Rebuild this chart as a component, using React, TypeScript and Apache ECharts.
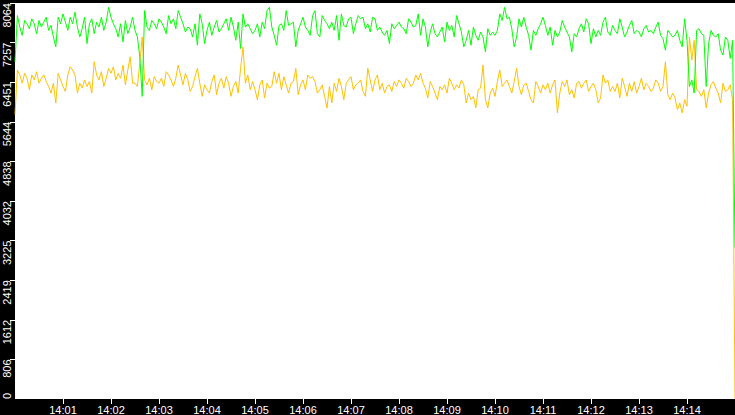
import { useEffect, useRef } from "react";
import * as echarts from "echarts";

const GREEN_COLOR = "#00ff00";
const ORANGE_COLOR = "#ffc000";

// one sample every 3 s, starting 14:00:00
const STEP_S = 3;
const START_MIN = 0;

const Y_MAX = 8064;
const Y_STEP = 806.4;

const MINUTE_TICKS = [60, 120, 180, 240, 300, 360, 420, 480, 540, 600, 660, 720, 780, 840];

const GREEN = [
    6868, 7809, 7574, 7406, 7708, 7641, 7540, 7742, 7641, 7439, 7708, 7574, 7674, 7775, 7506, 7607, 7372, 7170, 7775, 7641,
    7842, 7674, 7506, 7775, 7641, 7876, 7574, 7372, 7540, 7775, 7238, 7641, 7742, 7439, 7674, 7574, 7775, 7506, 7674, 7977,
    7775, 7641, 7540, 7372, 7641, 7271, 7708, 7439, 7574, 7775,
    7506, 7372, 6969, 6162, 7910, 7574, 7506, 7708, 7641, 7540, 7742, 7674, 7574, 7439, 7809, 7641, 7742, 7540, 7910, 7775,
    7641, 7473, 7574, 7540, 7372, 7641, 7204, 7842, 7641, 7238, 7506, 7674, 7406, 7574, 7708, 7473, 7540, 7641, 7742, 7506,
    7775, 7574, 7305, 7674, 7137, 7842, 7574, 7641, 7540, 7439,
    7506, 7641, 7372, 7674, 7540, 7910, 7977, 7574, 7406, 7204, 7607, 7641, 7506, 7910, 7607, 7641, 7674, 7170, 7506, 7641,
    7775, 7574, 7506, 7406, 7809, 7910, 7439, 7372, 7809, 7708, 7641, 7540, 7674, 7506, 7809, 7305, 7842, 7607, 7574, 7742,
    7775, 7439, 7641, 7809, 7742, 7775, 7540, 7641, 7473, 7775,
    7742, 7506, 7574, 7473, 7406, 7506, 7238, 7641, 7540, 7607, 7674, 7574, 7540, 7439, 7742, 7674, 7574, 7607, 7842, 7406,
    7742, 7574, 7170, 7473, 7641, 7439, 7372, 7473, 7574, 7271, 7674, 7506, 7607, 7372, 7809, 7641, 7473, 7170, 7305, 7506,
    7204, 7574, 7406, 7305, 7473, 7372, 7070, 7540, 7406, 7473,
    7406, 7506, 7842, 7708, 7977, 7742, 7775, 7540, 7170, 7372, 7742, 7574, 7775, 7574, 7406, 7103, 7506, 7406, 7540, 7641,
    7775, 7607, 7406, 7574, 7204, 7506, 7372, 7473, 7708, 7574, 7473, 7372, 7070, 7439, 7372, 7540, 7641, 7473, 7742, 7641,
    7238, 7540, 7372, 7506, 7406, 7674, 7775, 7473, 7406, 7607,
    7506, 7439, 7742, 7574, 7372, 7473, 7607, 7708, 7439, 7506, 7473, 7372, 7540, 7607, 7473, 7506, 7439, 7574, 7674, 7406,
    7338, 7103, 7506, 7439, 7372, 7406, 7506, 7305, 7170, 7742, 7305, 6364, 6498, 6230, 7506, 7540, 7439, 7406, 6364, 7238,
    7506, 7406, 7372, 7439, 7103, 7002, 7372, 7305, 6935, 7305,
    3080,
];

const ORANGE = [
    5793, 6700, 6599, 6431, 6633, 6532, 6297, 6599, 6498, 6666, 6431, 6532, 6599, 6465, 6364, 6230, 6431, 6028, 6633, 6498,
    6364, 6263, 6599, 6767, 6700, 6599, 6230, 6431, 6330, 6498, 6364, 6465, 6230, 6868, 6599, 6498, 6666, 6364, 6532, 6734,
    6633, 6767, 6498, 6633, 6532, 6801, 6398, 6700, 6969, 6431,
    6431, 6364, 6834, 7372, 6498, 6398, 6532, 6297, 6566, 6465, 6431, 6532, 6364, 6666, 6599, 6498, 6364, 6532, 6801, 6599,
    6398, 6633, 6498, 6263, 6364, 6566, 6734, 6431, 6162, 6398, 6297, 6230, 6465, 6599, 6196, 6431, 6532, 6330, 6566, 6431,
    6162, 6364, 6465, 6230, 6734, 7170, 6431, 6599, 6297, 6465,
    6297, 6095, 6398, 6498, 6129, 6431, 6330, 6364, 6666, 6431, 6633, 6297, 6566, 6398, 6230, 6431, 6465, 6734, 6196, 6398,
    6498, 6297, 6599, 6532, 6566, 6465, 6230, 6297, 6398, 6162, 5927, 6364, 6028, 6431, 6263, 6532, 6364, 6095, 6431, 6498,
    6566, 6297, 6398, 6431, 6498, 6263, 6162, 6734, 6498, 6263,
    6498, 6599, 6297, 6431, 6230, 6364, 6398, 6263, 6465, 6364, 6498, 6431, 6330, 6532, 6465, 6364, 6431, 6599, 6498, 6633,
    6431, 6330, 6129, 6465, 6364, 6230, 6095, 6364, 6297, 6398, 6230, 6532, 6431, 6297, 6398, 6330, 6498, 6398, 6028, 6230,
    6095, 6162, 5927, 6297, 6330, 6801, 6095, 5927, 6230, 6330,
    6162, 6465, 6700, 6364, 6431, 6498, 6364, 6230, 6465, 6734, 6364, 6196, 6398, 6431, 6263, 6095, 6028, 6465, 6364, 6230,
    6398, 6297, 6431, 6230, 6398, 6498, 5826, 6230, 6465, 6364, 6498, 6196, 6297, 6129, 6431, 6465, 6330, 6431, 6498, 6263,
    6364, 6431, 6297, 6028, 6129, 6599, 6431, 6498, 6263, 6364,
    6263, 6431, 6129, 6532, 6364, 6162, 6431, 6263, 6465, 6230, 6364, 6532, 6297, 6431, 6364, 6263, 6330, 6498, 6431, 6263,
    6364, 6868, 6196, 6095, 6230, 6129, 5894, 6028, 5826, 6095, 5961, 7372, 6902, 7305, 6297, 6263, 6162, 6297, 5927, 6230,
    6398, 6465, 6330, 6230, 6028, 6431, 6263, 6297, 6398, 6095,
    0,
];

const FONT = "'Liberation Sans', Arial, sans-serif";

function clock(sec: number) {
    const m = START_MIN + Math.round(sec / 60);
    return `14:${String(m).padStart(2, "0")}`;
}

export default function App() {
    const ref = useRef<HTMLDivElement>(null);

    useEffect(() => {
        if (!ref.current) return;
        const chart = echarts.init(ref.current, undefined, { renderer: "svg" });
        const toPairs = (arr: number[]) => arr.map((v, i) => [i * STEP_S, v]);

        chart.setOption({
            animation: false,
            backgroundColor: "#000",
            grid: {
                left: 15,
                right: 0,
                top: -1,
                bottom: 16,
                show: true,
                backgroundColor: "#fff",
                borderWidth: 0,
            },
            xAxis: {
                type: "value",
                min: 0,
                max: 900,
                interval: 60,
                axisLine: { show: false },
                splitLine: { show: false },
                axisTick: {
                    show: true,
                    length: 5,
                    lineStyle: { color: "#fff", width: 1 },
                    customValues: MINUTE_TICKS,
                },
                axisLabel: {
                    color: "#fff",
                    fontFamily: FONT,
                    fontSize: 11,
                    margin: 5,
                    customValues: MINUTE_TICKS,
                    formatter: (v: number) => clock(v),
                },
            },
            yAxis: {
                type: "value",
                min: 0,
                max: Y_MAX,
                interval: Y_STEP,
                axisLine: { show: false },
                splitLine: { show: false },
                axisTick: { show: true, length: 5, lineStyle: { color: "#fff", width: 1 } },
                axisLabel: {
                    color: "#fff",
                    fontFamily: FONT,
                    fontSize: 11,
                    rotate: 90,
                    align: "right",
                    verticalAlign: "middle",
                    margin: 8,
                    showMinLabel: false,
                    formatter: (v: number) => String(Math.floor(v + 1e-6)),
                },
            },
            graphic: [
                {
                    type: "text",
                    x: 7,
                    y: 399,
                    rotation: Math.PI / 2,
                    style: {
                        text: "0",
                        fill: "#fff",
                        font: `11px ${FONT}`,
                        align: "left",
                        verticalAlign: "middle",
                    },
                },
            ],
            series: [
                {
                    type: "line",
                    data: toPairs(ORANGE),
                    showSymbol: false,
                    symbol: "none",
                    silent: true,
                    lineStyle: { color: ORANGE_COLOR, width: 1 },
                },
                {
                    type: "line",
                    data: toPairs(GREEN),
                    showSymbol: false,
                    symbol: "none",
                    silent: true,
                    lineStyle: { color: GREEN_COLOR, width: 1 },
                },
            ],
        });

        return () => chart.dispose();
    }, []);

    return (
        <div
            ref={ref}
            style={{ position: "fixed", left: 0, top: 0, width: 735, height: 415, background: "#000" }}
        />
    );
}
